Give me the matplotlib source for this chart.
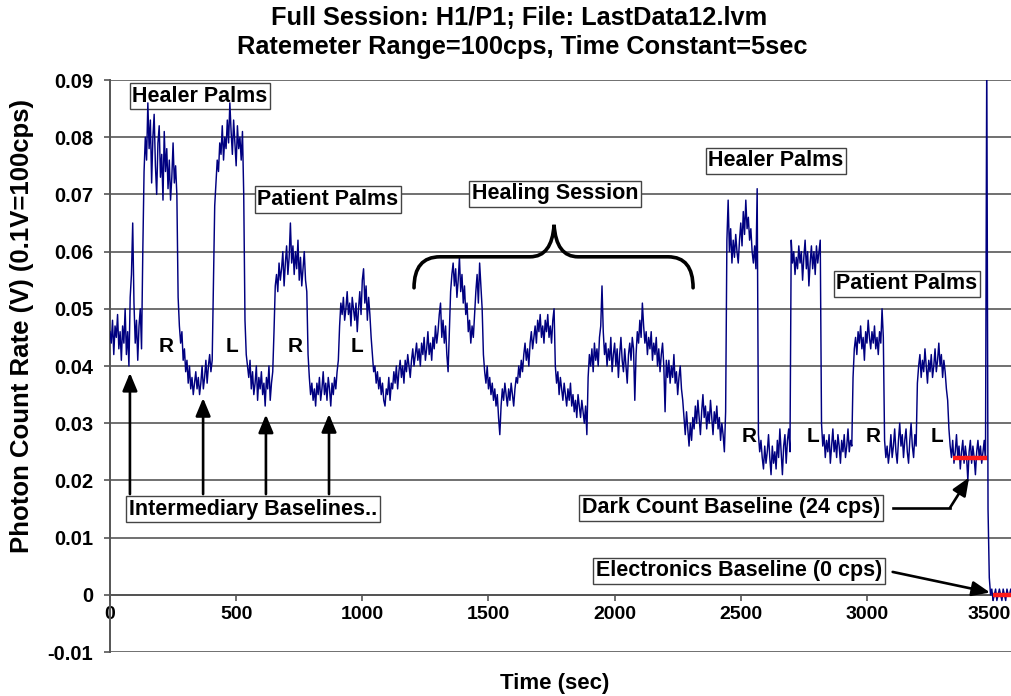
import numpy as np
import matplotlib
matplotlib.use("Agg")
import matplotlib.pyplot as plt
import matplotlib.transforms as mtransforms
from matplotlib.path import Path
from matplotlib.patches import PathPatch

plt.rcParams['font.family'] = ['Liberation Sans', 'DejaVu Sans']
plt.rcParams['font.weight'] = 'bold'

# ---------------- data (ratemeter output, cps; 1 cps = 0.001 V), sampled every 5 s -------------
sample_step = 5  # seconds
baseline_0 = [46, 44, 48, 42, 47, 45, 49, 43, 46, 41, 47, 44, 50, 42, 46, 40, 52, 56, 65, 51,
              44, 48, 41, 47, 50, 43]
healer_1 = [60, 74, 80, 76, 86, 78, 83, 72, 80, 84, 75, 70, 79, 82, 73, 77, 69, 81, 74, 78,
            71, 76, 69, 73, 79, 72, 75, 70]
baseline_r1 = [52, 47, 44, 46, 41, 43, 39, 41, 37, 40, 36, 38, 35, 37, 39, 36, 38, 35, 37, 40,
               36, 38, 41, 37, 40, 42, 39, 41]
healer_2 = [55, 68, 72, 76, 74, 79, 77, 82, 76, 80, 78, 83, 79, 86, 81, 77, 83, 79, 75, 82,
            78, 80, 76, 81, 70]
baseline_l1 = [48, 42, 40, 38, 41, 36, 39, 35, 37, 40, 34, 38, 36, 39, 35, 37, 33, 38, 36, 40,
               34, 37, 39]
patient_1 = [46, 54, 56, 53, 58, 55, 57, 60, 54, 58, 61, 56, 59, 65, 58, 61, 56, 60, 57, 62,
             55, 59, 54, 57, 60, 55, 53]
baseline_r2 = [42, 38, 35, 37, 34, 36, 33, 37, 35, 38, 34, 36, 39, 35, 37, 34, 38, 36, 33, 37,
               35, 38, 36, 39, 41]
patient_2 = [47, 51, 49, 52, 48, 50, 53, 49, 51, 47, 52, 50, 48, 51, 46, 50, 53, 49, 55, 57,
             51, 54, 48, 52, 49, 45]
session = [42, 39, 40, 37, 39, 36, 38, 35, 37, 34, 33, 36, 35, 38, 34, 37, 36, 39, 37, 40,
           36, 39, 41, 38, 40, 37, 41, 39, 42, 40, 38, 41, 43, 40, 42, 44,
           41, 43, 40, 44, 42, 45, 41, 43, 46, 42, 44, 41, 45, 43, 47, 44, 46, 49, 51, 45,
           48, 44, 47, 42, 39, 46,
           53, 56, 58, 54, 57, 52, 55, 59, 53, 56, 51, 54, 49, 51, 46, 48, 44, 47, 45, 49,
           53, 56, 51, 58, 54, 50,
           42, 39, 37, 40, 36, 38, 35, 37, 34, 36, 33, 35, 31, 28, 33, 36, 34, 37, 35, 33,
           36, 34, 37, 35, 33, 36, 38,
           37, 40, 38, 41, 39, 42, 44, 41, 43, 40, 44, 46, 43, 45, 47, 44, 48, 46, 49, 45,
           47, 44, 48, 46, 49, 45, 47, 44, 48, 50,
           40, 37, 39, 35, 38, 36, 34, 37, 35, 33, 36, 34, 37, 33, 35, 32, 34, 31, 35, 33,
           31, 34, 32, 30, 33, 28,
           38, 42, 40, 43, 39, 44, 41, 43, 40, 45, 47, 54, 46, 42, 44, 40, 43, 41, 45, 39,
           42, 44, 40, 43, 38, 42, 45, 41, 39, 43, 40, 37, 42, 44, 41, 45, 43, 34, 42, 46,
           44, 48, 45, 51, 47, 44, 46, 42, 45, 43, 46, 41, 44, 42, 45, 40, 43, 39, 42, 44,
           40, 32, 41, 38, 41, 37, 40, 38, 42, 37, 39, 35, 38, 40, 36, 34,
           31, 28, 32, 29, 26, 30, 27, 31, 29, 33, 30, 34, 31, 28, 32, 35, 31, 33, 29, 32,
           30, 34, 31, 28, 32, 30, 33, 29, 31, 27, 30, 28, 25, 32]
healer_3 = [62, 69, 60, 64, 58, 62, 59, 63, 60, 58, 62, 65, 61, 67, 63, 69, 64, 66, 62, 64,
            60, 58, 61, 57, 71]
baseline_r3 = [28, 25, 27, 24, 22, 26, 23, 25, 28, 24, 21, 26, 23, 25, 22, 27, 24, 29, 25, 21,
               26, 28, 23, 27, 29, 25]
healer_4 = [62, 58, 60, 56, 59, 57, 61, 58, 60, 55, 59, 62, 57, 60, 54, 58, 61, 57, 60, 56,
            61, 58, 60, 62]
baseline_l3 = [30, 26, 28, 24, 27, 25, 28, 23, 26, 29, 25, 27, 24, 28, 26, 23, 27, 25, 28, 24,
               26, 29, 25, 27, 26]
patient_3 = [38, 43, 45, 42, 46, 44, 47, 43, 45, 41, 46, 44, 48, 45, 43, 46, 44, 47, 43, 45,
             42, 46, 44, 50, 45]
baseline_r4 = [27, 24, 26, 23, 25, 28, 24, 26, 29, 25, 23, 27, 30, 26, 28, 24, 27, 29, 25, 23,
               27, 30, 26, 24, 28, 26]
patient_4 = [37, 40, 42, 38, 41, 39, 43, 40, 37, 41, 39, 42, 38, 40, 43, 39, 41, 44, 40, 42,
             38, 41, 39, 36, 34]
dark_count = [29, 26, 24, 27, 23, 25, 28, 24, 26, 22, 25, 27, 23, 26, 24, 20, 25, 27, 23, 26,
              24, 21, 25, 27, 24, 26, 23, 25, 27, 24]
electronics = [95, 15, 3, 0, 1, -1, 0, 1, -1, 0, 1, 0, -1, 1, 0, -1, 1, 0, 0, 1, 0]

rate_cps = (baseline_0 + healer_1 + baseline_r1 + healer_2 + baseline_l1 + patient_1 +
            baseline_r2 + patient_2 + session + healer_3 + baseline_r3 + healer_4 +
            baseline_l3 + patient_3 + baseline_r4 + patient_4 + dark_count + electronics)
assert len(rate_cps) == 716, len(rate_cps)

dark_level_v = 0.024
dark_span = [3340, 3475]
elec_level_v = 0.0
elec_span = [3500, 3575]

x_ticks = [0, 500, 1000, 1500, 2000, 2500, 3000, 3500]
y_ticks = [-0.01, 0, 0.01, 0.02, 0.03, 0.04, 0.05, 0.06, 0.07, 0.08, 0.09]
y_tick_labels = ['-0.01', '0', '0.01', '0.02', '0.03', '0.04', '0.05', '0.06', '0.07', '0.08', '0.09']

title_1 = 'Full Session: H1/P1; File: LastData12.lvm'
title_2 = 'Ratemeter Range=100cps, Time Constant=5sec'
x_label = 'Time (sec)'
y_label = 'Photon Count Rate (V) (0.1V=100cps)'

# ---------------- figure -------------------------------------------------------------
W, H = 1012, 696
fig = plt.figure(figsize=(W / 100, H / 100), dpi=100)
ax = fig.add_axes([110 / W, 1 - 652 / H, (W - 110) / W, (652 - 80) / H])

time_s = np.arange(len(rate_cps)) * sample_step
volts = np.array(rate_cps, dtype=float) / 1000.0

ax.set_xlim(0, 3575)
ax.set_ylim(-0.01, 0.09)

grid_c = '#707070'
for yv in y_ticks:
    ax.axhline(yv, color=grid_c, lw=1.4, zorder=0.5)

ax.plot(time_s, volts, color='#000080', lw=1.05, zorder=3)
ax.plot(dark_span, [dark_level_v] * 2, color='#ff1a1a', lw=3.2, zorder=4, solid_capstyle='butt')
ax.plot(elec_span, [elec_level_v] * 2, color='#ff1a1a', lw=3.2, zorder=4, solid_capstyle='butt')

for s in ['top', 'right']:
    ax.spines[s].set_visible(False)
ax.spines['bottom'].set_position(('data', 0))
ax.spines['left'].set_color('#555555')
ax.spines['bottom'].set_color('#555555')
ax.spines['left'].set_linewidth(1.4)
ax.spines['bottom'].set_linewidth(1.4)

ax.set_xticks(x_ticks)
ax.set_xticklabels([str(v) for v in x_ticks])
ax.set_yticks(y_ticks)
ax.set_yticklabels(y_tick_labels)
ax.tick_params(axis='x', direction='out', length=4, width=1.2, color='#555555', pad=4,
               labelsize=14)
ax.tick_params(axis='y', direction='out', length=4, width=1.2, color='#555555', pad=8,
               labelsize=14.5)
for lab in ax.get_xticklabels() + ax.get_yticklabels():
    lab.set_fontweight('bold')
# keep the last x tick label inside the picture
last = ax.get_xticklabels()[-1]
last.set_transform(last.get_transform() +
                   mtransforms.ScaledTranslation(-4 / 100, 0, fig.dpi_scale_trans))

fig.text(519 / W, 1 - 18 / H, title_1, ha='center', va='center', fontsize=18.3, fontweight='bold')
fig.text(522 / W, 1 - 47 / H, title_2, ha='center', va='center', fontsize=18.3, fontweight='bold')
fig.text(555 / W, 1 - 684 / H, x_label, ha='center', va='center', fontsize=16, fontweight='bold')
fig.text(22 / W, 1 - 326 / H, y_label, ha='center', va='center', rotation=90,
         fontsize=18.5, fontweight='bold')

box = dict(boxstyle='square,pad=0.12', facecolor='white', edgecolor='#444444', lw=1.0)
ann_fs = 15.5
labels = [
    ('Healer Palms', 357, 0.0872),
    ('Patient Palms', 864, 0.0691),
    ('Healing Session', 1764, 0.0701),
    ('Healer Palms', 2640, 0.0759),
    ('Patient Palms', 3159, 0.0544),
    ('Intermediary Baselines..', 567, 0.0150),
    ('Dark Count Baseline (24 cps)', 2461, 0.0152),
    ('Electronics Baseline (0 cps)', 2493, 0.0042),
]
for txt, tx, ty in labels:
    ax.text(tx, ty, txt, ha='center', va='center', fontsize=ann_fs, fontweight='bold',
            bbox=box, zorder=2)

side_labels = [('R', 222, 0.0434), ('L', 483, 0.0434), ('R', 733, 0.0434), ('L', 979, 0.0434),
               ('R', 2533, 0.0276), ('L', 2787, 0.0276), ('R', 3024, 0.0276), ('L', 3278, 0.0276)]
for txt, tx, ty in side_labels:
    ax.text(tx, ty, txt, ha='center', va='center', fontsize=15, fontweight='bold', zorder=2)

arrow_kw = dict(arrowstyle='-|>,head_length=0.6,head_width=0.25', color='black', lw=1.9,
                mutation_scale=18, shrinkA=0, shrinkB=0)
for ax_t, tip in [(79, 0.0388), (369, 0.0344), (618, 0.0315), (868, 0.0316)]:
    ax.annotate('', xy=(ax_t, tip), xytext=(ax_t, 0.0176), arrowprops=arrow_kw, zorder=5)

ax.plot([3102, 3329], [0.0152, 0.0152], color='black', lw=1.9, zorder=5)
ax.annotate('', xy=(3405, 0.0205), xytext=(3329, 0.0152), arrowprops=arrow_kw, zorder=5)
ax.annotate('', xy=(3488, 0.0004), xytext=(3102, 0.0040), arrowprops=arrow_kw, zorder=5)

# curly brace over the healing session
yb0, yb1, yb2 = 0.05367, 0.05909, 0.06469
verts = [(1205, yb0), (1205, yb1), (1308, yb1),
         (1665, yb1),
         (1752, yb1), (1760, yb2),
         (1768, yb1), (1855, yb1),
         (2212, yb1),
         (2311, yb1), (2311, yb0)]
codes = [Path.MOVETO, Path.CURVE3, Path.CURVE3,
         Path.LINETO,
         Path.CURVE3, Path.CURVE3,
         Path.CURVE3, Path.CURVE3,
         Path.LINETO,
         Path.CURVE3, Path.CURVE3]
ax.add_patch(PathPatch(Path(verts, codes), facecolor='none', edgecolor='black', lw=2.6,
                       zorder=4, capstyle='round'))

fig.savefig('out.png', dpi=100)
